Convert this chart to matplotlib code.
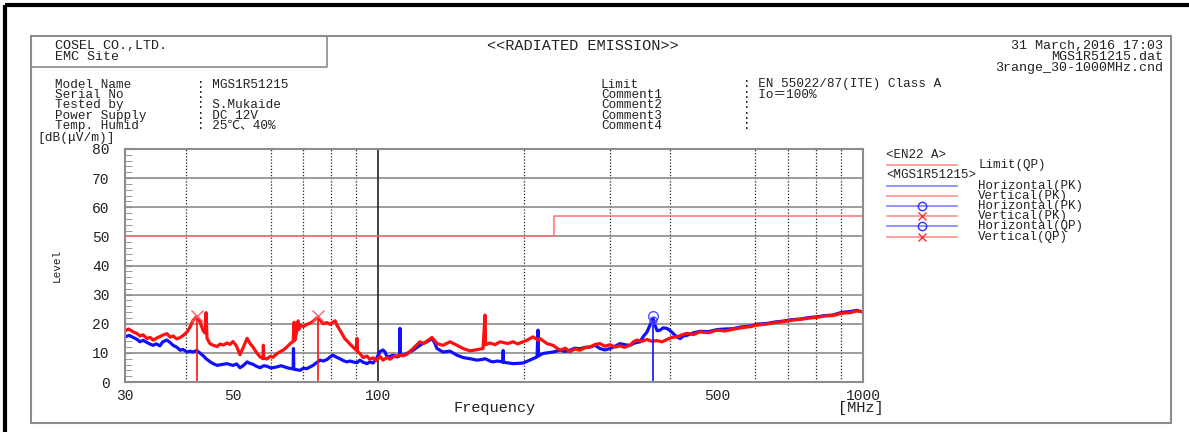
import matplotlib
matplotlib.use('Agg')
import matplotlib.pyplot as plt
from matplotlib.ticker import NullFormatter
from matplotlib.lines import Line2D
from matplotlib.patches import Rectangle

# values (MHz, dB(uV/m))
limit_f = [30, 230, 230, 1000]
limit_v = [50, 50, 57, 57]

h_pk_f = [30.0, 30.6, 31.2, 31.8, 32.2, 32.7, 33.3, 33.8, 34.3, 34.8, 35.4, 35.9, 36.6, 37.2,
          37.7, 38.4, 39.0, 39.5, 40.3, 40.9, 41.4, 42.2, 42.8, 43.5, 44.1, 44.9, 45.6, 46.5,
          47.1, 48.7, 50.1, 51.0, 51.8, 52.6, 53.6, 54.3, 55.1, 56.0, 57.0, 58.0, 58.9, 60.0,
          61.8, 63.0, 64.8, 66.0, 66.7, 66.8, 66.9, 67.9, 68.9, 70.0, 71.2, 72.3, 73.3, 74.5,
          75.8, 76.9, 78.3, 79.5, 80.6, 81.4, 82.2, 83.3, 84.5, 86.1, 87.4, 88.6, 90.3, 91.6,
          93.0, 94.7, 96.0, 97.5, 99.0, 100.8, 102.2, 103.2, 104.2, 105.7, 107.2, 108.2, 109.2,
          110.7, 110.8, 110.9, 112.4, 114.5, 117.9, 121.8, 123.6, 126.0, 129.0, 130.5, 132.1,
          134.0, 135.9, 140.5, 145.3, 149.5, 154.5, 159.8, 164.4, 166.0, 170.0, 172.4, 176.0,
          180.8, 180.9, 181.0, 189.6, 198.8, 208.4, 212.5, 213.5, 214.0, 218.6, 229.2, 237,
          243, 248.5, 254, 260.6, 267, 273.3, 280, 286.6, 293, 300.6, 308, 315.2, 322, 330.5,
          338, 346.6, 352, 358.4, 364, 368.8, 372, 376, 381.2, 387, 394.1, 400, 405.5, 412,
          419.2, 426, 433.3, 447, 461.1, 480, 499.9, 519, 539.2, 560, 584.6, 608, 633.7, 658,
          683.6, 712, 741.4, 772, 803.8, 835, 867.2, 903, 940.3, 970, 1000]
h_pk_v = [15.5, 16.0, 15.3, 14.6, 13.8, 14.3, 13.6, 13.0, 12.6, 13.1, 12.4, 13.8, 14.4, 13.5,
          12.6, 11.9, 10.9, 11.2, 10.3, 10.6, 10.3, 10.8, 10.0, 9.0, 8.0, 7.0, 6.3, 5.7,
          5.9, 6.3, 5.7, 6.2, 4.9, 5.6, 6.9, 6.4, 6.1, 5.4, 4.9, 5.6, 5.4, 4.8,
          5.2, 5.6, 4.9, 4.6, 4.6, 11.5, 4.4, 4.2, 4.0, 4.7, 4.6, 5.2, 5.7, 6.6,
          7.5, 7.2, 7.7, 8.6, 9.2, 8.8, 8.4, 8.0, 7.4, 6.9, 7.2, 6.9, 6.6, 7.5,
          6.8, 6.3, 6.9, 6.5, 8.0, 10.5, 11.0, 10.3, 8.6, 8.8, 9.2, 9.0, 8.6,
          9.0, 18.4, 9.2, 9.2, 9.8, 10.9, 12.6, 13.2, 13.8, 14.9, 13.6, 11.5,
          10.9, 10.3, 10.6, 9.2, 8.4, 8.0, 7.5, 7.8, 8.0, 7.2, 6.9, 7.2,
          6.9, 10.8, 6.8, 6.3, 6.5, 8.0, 8.6, 17.8, 9.0, 9.8, 10.3, 10.9,
          10.5, 10.9, 11.6, 11.4, 11.9, 12.0, 12.6, 11.5, 11.0, 11.5, 12.3, 13.2, 12.8, 12.6,
          13.4, 13.8, 15.6, 17.2, 19.8, 21.8, 19.6, 17.6, 17.8, 18.6, 18.4, 17.6, 16.7, 15.6,
          14.9, 15.8, 16.0, 16.9, 17.4, 17.3, 18.0, 18.2, 18.3, 18.9, 19.2, 19.9, 20.1, 20.6,
          20.9, 21.4, 21.6, 22.1, 22.4, 22.8, 23.0, 23.9, 24.2, 24.6, 24.0]

v_pk_f = [30.0, 30.5, 31.2, 31.8, 32.2, 32.7, 33.3, 33.8, 34.3, 34.8, 35.4, 35.9, 36.6, 37.2,
          37.7, 38.4, 39.0, 39.5, 40.3, 40.9, 41.4, 42.2, 42.8, 43.5, 43.9, 44.1, 44.3, 44.9,
          45.6, 46.5, 47.1, 47.9, 48.7, 49.4, 50.1, 50.9, 51.8, 52.6, 53.6, 54.3, 55.1, 56.0,
          57.0, 57.8, 57.9, 58.0, 58.9, 59.8, 60.6, 61.8, 62.7, 63.7, 64.8, 65.8, 66.7, 67.0,
          67.2, 67.9, 68.3, 68.5, 68.9, 70.0, 71.2, 72.3, 73.3, 74.2, 75.1, 76.0, 76.9, 78.3,
          79.5, 80.6, 81.4, 82.2, 83.3, 84.5, 85.3, 86.1, 87.4, 88.6, 90.0, 90.3, 90.6, 91.6,
          93.0, 94.7, 96.0, 97.5, 99.0, 100.8, 102.2, 104.2, 105.7, 107.2, 110.8, 112.4, 114.5,
          117.9, 121.8, 124.0, 126.0, 129.0, 132.1, 135.9, 140.5, 145.3, 149.5, 154.5, 159.8,
          164.4, 166.0, 166.4, 170.0, 174.0, 178.2, 185.0, 189.6, 194.0, 198.8, 203.0, 208.4,
          213.5, 215.5, 222.8, 229.2, 237, 243, 248.5, 254, 260.6, 267, 273.3, 280, 286.6, 293,
          300.6, 308, 315.2, 322, 330.5, 336, 341.7, 350, 358.4, 366, 375.8, 385, 394.1, 403,
          413.3, 423, 433.3, 447, 461.1, 480, 499.9, 519, 539.2, 560, 584.6, 608, 633.7, 658,
          683.6, 712, 741.4, 772, 803.8, 835, 867.2, 903, 940.3, 970, 1000]
v_pk_v = [17.5, 18.2, 17.2, 16.6, 15.8, 16.2, 14.9, 15.3, 14.4, 15.0, 15.6, 16.1, 16.6, 15.4,
          15.8, 14.8, 15.3, 15.9, 17.2, 19.0, 21.0, 22.5, 20.8, 17.6, 16.8, 23.8, 15.0, 13.2,
          12.6, 12.2, 13.0, 12.7, 13.4, 12.9, 13.9, 12.5, 9.4, 11.8, 15.0, 13.3, 12.0, 10.2,
          8.6, 8.0, 12.6, 8.2, 7.9, 8.8, 8.5, 9.8, 10.4, 11.0, 12.1, 13.2, 14.0, 20.5,
          14.2, 17.6, 21.0, 18.0, 19.6, 19.0, 19.8, 20.2, 20.8, 21.6, 22.3, 21.0, 20.0, 20.4,
          19.8, 20.6, 21.0, 19.4, 17.8, 16.0, 14.8, 14.2, 13.0, 12.0, 10.9, 15.0, 10.4, 9.8,
          8.4, 8.9, 7.8, 8.3, 7.3, 8.8, 7.5, 8.4, 7.8, 8.6, 9.2, 9.0, 9.5,
          11.5, 13.8, 13.2, 14.1, 15.3, 13.2, 12.6, 13.8, 12.6, 11.5, 10.7, 11.1,
          11.5, 23.0, 12.8, 13.4, 12.8, 13.8, 13.2, 13.8, 13.1, 13.8, 14.4, 15.5,
          14.4, 14.9, 13.2, 12.6, 10.9, 11.6, 10.4, 11.3, 10.9, 11.8, 12.0, 12.9, 13.2, 12.3,
          12.8, 12.0, 12.4, 11.9, 12.6, 13.8, 14.4, 14.0, 14.6, 14.0, 14.2, 13.8, 14.6, 15.3,
          15.5, 16.2, 16.7, 16.3, 17.2, 16.9, 17.8, 17.5, 18.1, 18.6, 19.0, 19.6, 19.9, 20.4,
          20.7, 21.2, 21.5, 21.9, 22.2, 22.7, 22.8, 23.6, 23.8, 24.4, 24.1]

# peak / quasi-peak markers
v_mark_f = [42.2, 75.1]
v_mark_v = [22.6, 22.6]
v_qp_f = [42.2, 75.1]
v_qp_v = [21.8, 21.8]
h_mark_f = [368.8]
h_mark_v = [22.8]
h_qp_f = [368.8]
h_qp_v = [21.3]

x_ticks = [30, 50, 100, 500, 1000]
y_ticks = [0, 10, 20, 30, 40, 50, 60, 70, 80]
grid_f = [40, 50, 60, 70, 80, 90, 200, 300, 400, 500, 600, 700, 800, 900]

info_labels = ['Model Name', 'Serial No', 'Tested by', 'Power Supply', 'Temp. Humid']
info_values = [': MGS1R51215', ':', ': S.Mukaide', ': DC 12V', ': 25℃、40%']
cond_labels = ['Limit', 'Comment1', 'Comment2', 'Comment3', 'Comment4']
cond_values = [': EN 55022/87(ITE) Class A', ': Io＝100%', ':', ':', ':']
header_left = ['COSEL CO.,LTD.', 'EMC Site']
header_right = ['31 March,2016 17:03', 'MGS1R51215.dat', '3range_30-1000MHz.cnd']
legend_rows = [
    ('<EN22 A>', None, None, None),
    ('Limit(QP)', '#ff9090', None, None),
    ('<MGS1R51215>', None, None, None),
    ('Horizontal(PK)', '#8080ff', None, None),
    ('Vertical(PK)', '#ff9090', None, None),
    ('Horizontal(PK)', '#8080ff', 'o', '#3030ff'),
    ('Vertical(PK)', '#ff9090', 'x', '#ff3030'),
    ('Horizontal(QP)', '#8080ff', 'o', '#3030ff'),
    ('Vertical(QP)', '#ff9090', 'x', '#ff3030'),
]

FONT = ['Liberation Mono', 'Noto Sans CJK JP', 'DejaVu Sans']
RED = '#ff1010'
BLUE = '#1010ff'
GRID = '#8c8c8c'
TXT = '#222222'


def put(ax, x, y, s, size, **kw):
    ax.text(x, y, s, family=FONT, fontsize=size, va='center', color=TXT, **kw)


fig = plt.figure(figsize=(11.89, 4.32), dpi=100)

# page layer in pixel coordinates
bg = fig.add_axes([0, 0, 1, 1])
bg.set_xlim(0, 1189)
bg.set_ylim(432, 0)
bg.axis('off')

bg.plot([5, 1189], [5, 5], color='black', lw=3, solid_capstyle='butt')
bg.plot([5, 5], [5, 432], color='black', lw=3, solid_capstyle='butt')
bg.add_patch(Rectangle((31, 36), 1140, 387, fill=False, ec=GRID, lw=1.5))
bg.plot([31, 327, 327], [67, 67, 36], color=GRID, lw=1.2)

for i, t in enumerate(header_left):
    put(bg, 55, 46 + i * 11, t, 9.6)
put(bg, 487, 46, '<<RADIATED EMISSION>>', 11)
for i, t in enumerate(header_right):
    put(bg, 1163, 46 + i * 11, t, 9.6, ha='right')

for i, (lab, val) in enumerate(zip(info_labels, info_values)):
    y = 84.5 + i * 10.4
    put(bg, 55, y, lab, 9.1)
    put(bg, 197, y, val, 9.1)
for i, (lab, val) in enumerate(zip(cond_labels, cond_values)):
    y = 84.5 + i * 10.4
    put(bg, 601, y, lab, 9.1)
    put(bg, 743, y, val, 9.1)

put(bg, 37, 137.5, '[dB(μV/m)]', 9.3)
put(bg, 57, 265, 'Level', 8, ha='center', rotation=90)
put(bg, 495, 408, 'Frequency', 11, ha='center')
put(bg, 838, 408, '[MHz]', 11)

# legend block drawn row by row
leg_step = 10.2
leg_y0 = 155
for i, (lab, col, mk, mcol) in enumerate(legend_rows):
    y = leg_y0 + i * leg_step
    if col is None:
        put(bg, 886, y, lab, 9)
    else:
        bg.add_line(Line2D([887, 957], [y, y], color=col, lw=1.2))
        if mk:
            bg.plot([922], [y], marker=mk, ms=6, mfc='none', mec=mcol, mew=1)
        put(bg, 978, y, lab, 9)

# measurement chart
ax = fig.add_axes([125 / 1189, (432 - 382) / 432, 738 / 1189, 233 / 432])
ax.set_xscale('log')
ax.set_xlim(30, 1000)
ax.set_ylim(0, 80)

ax.set_xticks(x_ticks)
ax.set_xticklabels([str(t) for t in x_ticks], family=FONT, fontsize=10.5, color=TXT)
ax.set_xticks(grid_f, minor=True)
ax.xaxis.set_minor_formatter(NullFormatter())
ax.set_yticks(y_ticks)
ax.set_yticklabels([str(t) for t in y_ticks], family=FONT, fontsize=10.5, color=TXT)
ax.set_yticks(range(0, 81, 2), minor=True)
ax.tick_params(axis='x', which='both', length=0, pad=5)
ax.tick_params(axis='y', which='both', direction='in', length=5, color=GRID, pad=11)

ax.grid(axis='y', which='major', color=GRID, lw=1.2, ls='-')
ax.grid(axis='x', which='minor', color='#222222', lw=0.9, ls=(0, (1, 1.5)))
ax.axvline(100, color='#222222', lw=1.2)
for s in ax.spines.values():
    s.set_color(GRID)
    s.set_linewidth(1.5)

ax.plot(limit_f, limit_v, color='#ff7070', lw=1.1)
ax.plot(h_pk_f, h_pk_v, color=BLUE, lw=2.3)
ax.plot(v_pk_f, v_pk_v, color=RED, lw=2.3)

ax.vlines(v_qp_f, 0, v_qp_v, color=RED, lw=1.2)
ax.vlines(h_qp_f, 0, h_qp_v, color=BLUE, lw=1.2)
ax.plot(v_mark_f, v_mark_v, 'x', color='#ff6060', ms=8, mew=1)
ax.plot(h_mark_f, h_mark_v, 'o', mfc='none', mec='#5050ff', ms=7, mew=1)
ax.plot(h_qp_f, h_qp_v, 'o', mfc='none', mec='#5050ff', ms=5, mew=1)

fig.savefig('out.png', dpi=100)
